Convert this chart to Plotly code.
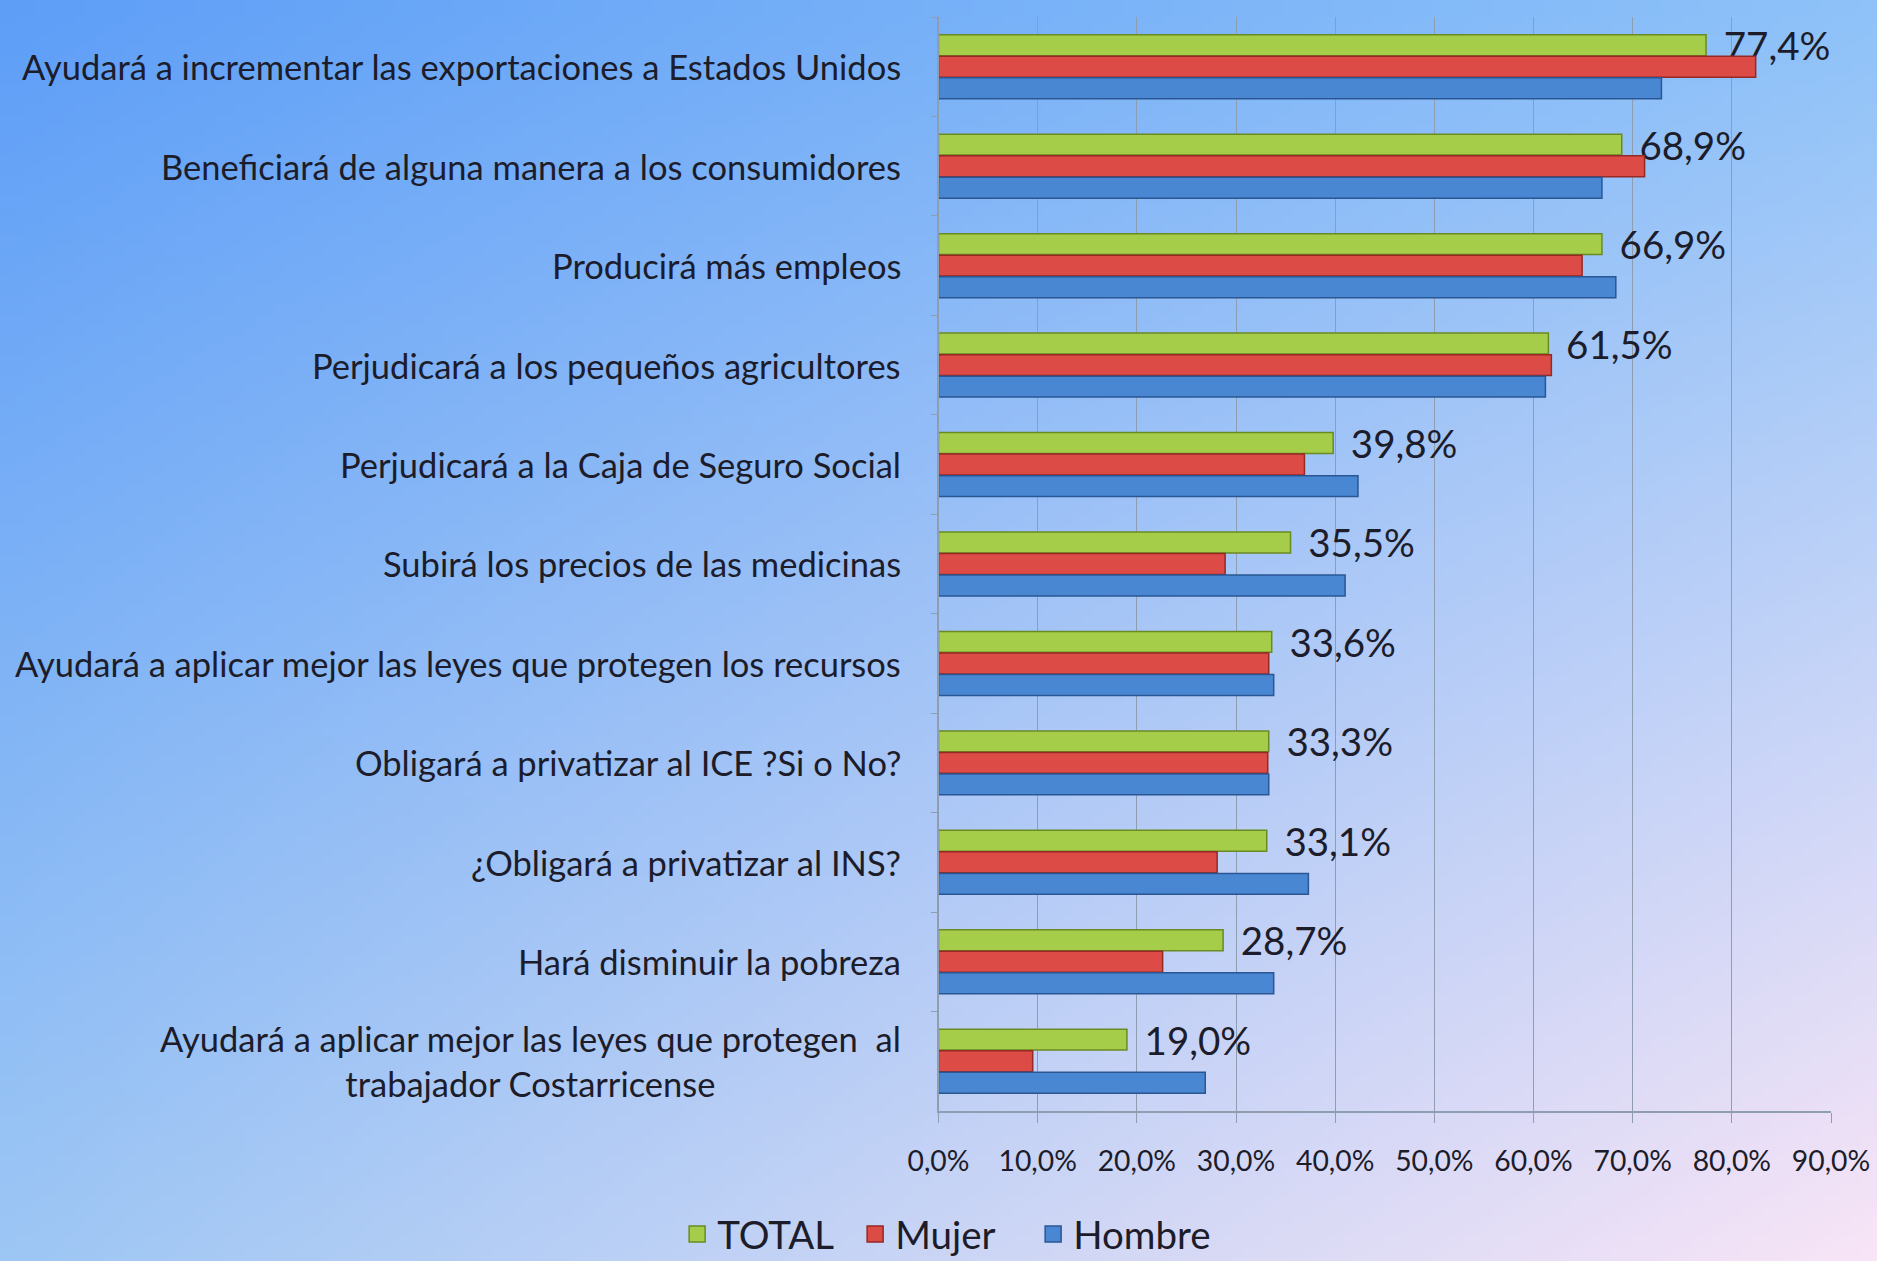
import base64
import struct
import zlib

import plotly.graph_objects as go

categorias = [
    "Ayudará a incrementar las exportaciones a Estados Unidos",
    "Beneficiará de alguna manera a los consumidores",
    "Producirá más empleos",
    "Perjudicará a los pequeños agricultores",
    "Perjudicará a la Caja de Seguro Social",
    "Subirá los precios de las medicinas",
    "Ayudará a aplicar mejor las leyes que protegen los recursos",
    "Obligará a privatizar al ICE ?Si o No?",
    "¿Obligará a privatizar al INS?",
    "Hará disminuir la pobreza",
    "Ayudará a aplicar mejor las leyes que protegen  al<br>trabajador Costarricense",
]
total = [77.4, 68.9, 66.9, 61.5, 39.8, 35.5, 33.6, 33.3, 33.1, 28.7, 19.0]
mujer = [82.4, 71.2, 64.9, 61.8, 36.9, 28.9, 33.3, 33.2, 28.1, 22.6, 9.5]
hombre = [72.9, 66.9, 68.3, 61.2, 42.3, 41.0, 33.8, 33.3, 37.3, 33.8, 26.9]

FONT = "Lato, 'Open Sans', sans-serif"
TXT = "#1c1c2a"


def fondo_degradado(w=188, h=126):
    # esquinas: sup-izq, sup-der, inf-izq, inf-der
    tl, tr, bl, br = (94, 158, 247), (142, 194, 248), (157, 198, 244), (248, 228, 246)
    filas = []
    for j in range(h):
        v = j / (h - 1)
        fila = bytearray(b"\x00")
        for i in range(w):
            u = i / (w - 1)
            for c in range(3):
                top = tl[c] * (1 - u) + tr[c] * u
                bot = bl[c] * (1 - u) + br[c] * u
                fila.append(int(round(top * (1 - v) + bot * v)))
        filas.append(bytes(fila))

    def chunk(tag, data):
        return (struct.pack(">I", len(data)) + tag + data
                + struct.pack(">I", zlib.crc32(tag + data) & 0xFFFFFFFF))

    png = (b"\x89PNG\r\n\x1a\n"
           + chunk(b"IHDR", struct.pack(">IIBBBBB", w, h, 8, 2, 0, 0, 0))
           + chunk(b"IDAT", zlib.compress(b"".join(filas)))
           + chunk(b"IEND", b""))
    return "data:image/png;base64," + base64.b64encode(png).decode()


def main():
    fig = go.Figure()

    series = [
        ("TOTAL", total, "#a6cd4a", "#6a8b22"),
        ("Mujer", mujer, "#dc4b46", "#952924"),
        ("Hombre", hombre, "#4a87d3", "#2a5794"),
    ]
    for nombre, vals, color, borde in series:
        es_total = nombre == "TOTAL"
        fig.add_trace(go.Bar(
            y=categorias, x=vals, name=nombre, orientation="h",
            marker=dict(color=color, line=dict(color=borde, width=1.5)),
            texttemplate="\u00a0\u2009%{x:.1f}%" if es_total else None,
            textposition="outside" if es_total else "none",
            textfont=dict(family=FONT, size=38.5, color=TXT),
            constraintext="none", cliponaxis=False, showlegend=False,
        ))
        # cuadrito de la leyenda
        fig.add_trace(go.Scatter(
            x=[None], y=[None], mode="markers", name=nombre,
            marker=dict(symbol="square", size=16, color=color,
                        line=dict(color=borde, width=1.5)),
        ))

    # etiquetas de categorias
    for cat in categorias:
        fig.add_annotation(
            x=0, y=cat, xref="x", yref="y", text=cat, showarrow=False,
            xanchor="right", xshift=-36, align="center",
            font=dict(family=FONT, size=34.5, color=TXT),
        )

    fig.add_layout_image(
        source=fondo_degradado(), xref="paper", yref="paper",
        x=0, y=1, sizex=1, sizey=1, xanchor="left", yanchor="top",
        sizing="stretch", layer="below",
    )

    fig.update_layout(
        width=1877, height=1261,
        margin=dict(l=0, r=0, t=0, b=0, autoexpand=False),
        paper_bgcolor="#a9cbf2",
        plot_bgcolor="rgba(0,0,0,0)",
        separators=",.",
        barmode="group", bargap=0.35, bargroupgap=0.03,
        font=dict(family=FONT, color=TXT),
        xaxis=dict(
            domain=[0.5, 0.9755], range=[0, 90], dtick=10,
            tickformat=".1f", ticksuffix="%", automargin=False,
            showgrid=True, gridcolor="#8e9db0", gridwidth=1,
            showline=True, linecolor="#8e9db0", linewidth=1.5,
            ticks="outside", ticklen=10, tickcolor="#8e9db0",
            tickfont=dict(family=FONT, size=28.3, color=TXT),
            ticklabelstandoff=14, zeroline=False,
        ),
        yaxis=dict(
            domain=[0.119, 0.9865], autorange="reversed", automargin=False,
            showticklabels=False, showline=True, linecolor="#8e9db0",
            linewidth=1.5, ticks="outside", ticklen=6, tickcolor="#8e9db0",
            tickson="boundaries", showgrid=False,
        ),
        legend=dict(
            orientation="h", x=0.503, xanchor="center", y=0.021,
            yanchor="middle", font=dict(family=FONT, size=38.5, color=TXT),
            bgcolor="rgba(0,0,0,0)", itemwidth=30,
            entrywidth=133, entrywidthmode="pixels",
        ),
    )

    fig.write_html(
        "out.html",
        config={"displayModeBar": False},
        post_script="document.body.style.margin='0';"
                    "document.body.style.overflow='hidden';",
    )


if __name__ == "__main__":
    main()
